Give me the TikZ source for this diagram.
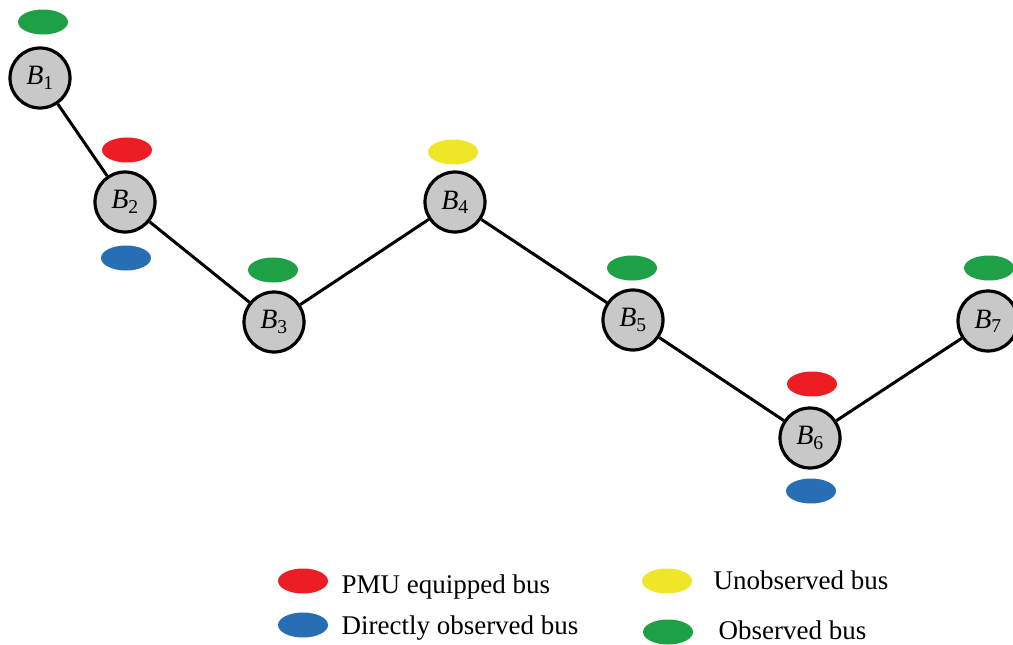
\documentclass[tikz,border=0pt]{standalone}
\usepackage{fontspec}
\setmainfont{Liberation Serif}
\usepackage{tikz}
\usetikzlibrary{shapes.geometric}
\definecolor{pmured}{RGB}{236,30,36}
\definecolor{dirblue}{RGB}{40,110,180}
\definecolor{unyellow}{RGB}{240,230,40}
\definecolor{obsgreen}{RGB}{30,160,70}
\definecolor{busgray}{RGB}{200,200,200}

\begin{document}
\begin{tikzpicture}[x=1pt, y=-1pt,
    bus/.style={circle, draw, line width=3.2pt, fill=busgray, minimum size=60pt,
      inner sep=0pt, font=\fontsize{28}{32}\selectfont},
    tag/.style={ellipse, minimum width=50pt, minimum height=25pt, inner sep=0pt},
    link/.style={line width=3pt},
    legtext/.style={anchor=base west, font=\fontsize{27}{32}\selectfont}]
  \clip (0,0) rectangle (1013,645);
  \fill[white] (0,0) rectangle (1013,645);
  % buses
  \node[bus] (b1) at (40,78) {\textit{B}\textsubscript{1}};
  \node[bus] (b2) at (125,202) {\textit{B}\textsubscript{2}};
  \node[bus] (b3) at (274,322) {\textit{B}\textsubscript{3}};
  \node[bus] (b4) at (455,202) {\textit{B}\textsubscript{4}};
  \node[bus] (b5) at (633,320) {\textit{B}\textsubscript{5}};
  \node[bus] (b6) at (810,438) {\textit{B}\textsubscript{6}};
  \node[bus] (b7) at (988,321) {\textit{B}\textsubscript{7}};
  % lines
  \draw[link] (b1) -- (b2);
  \draw[link] (b2) -- (b3);
  \draw[link] (b3) -- (b4);
  \draw[link] (b4) -- (b5);
  \draw[link] (b5) -- (b6);
  \draw[link] (b6) -- (b7);
  % bus states
  \node[tag, fill=obsgreen] (obs1) at (43,22) {};
  \node[tag, fill=pmured] (pmu2) at (127,150) {};
  \node[tag, fill=dirblue] (dir2) at (126,258) {};
  \node[tag, fill=obsgreen] (obs3) at (273,270) {};
  \node[tag, fill=unyellow] (un4) at (453,152) {};
  \node[tag, fill=obsgreen] (obs5) at (632,268) {};
  \node[tag, fill=pmured] (pmu6) at (812,384) {};
  \node[tag, fill=dirblue] (dir6) at (811,491) {};
  \node[tag, fill=obsgreen] (obs7) at (989,268) {};
  % legend
  \node[tag, fill=pmured] (legpmu) at (303,581) {};
  \node[legtext] (legpmutext) at (338,593) {PMU equipped bus};
  \node[tag, fill=dirblue] (legdir) at (303,625) {};
  \node[legtext] (legdirtext) at (338,634) {Directly observed bus};
  \node[tag, fill=unyellow] (legun) at (667,581) {};
  \node[legtext] (leguntext) at (710,589) {Unobserved bus};
  \node[tag, fill=obsgreen] (legobs) at (668,632) {};
  \node[legtext] (legobstext) at (715,639) {Observed bus};
\end{tikzpicture}
\end{document}
